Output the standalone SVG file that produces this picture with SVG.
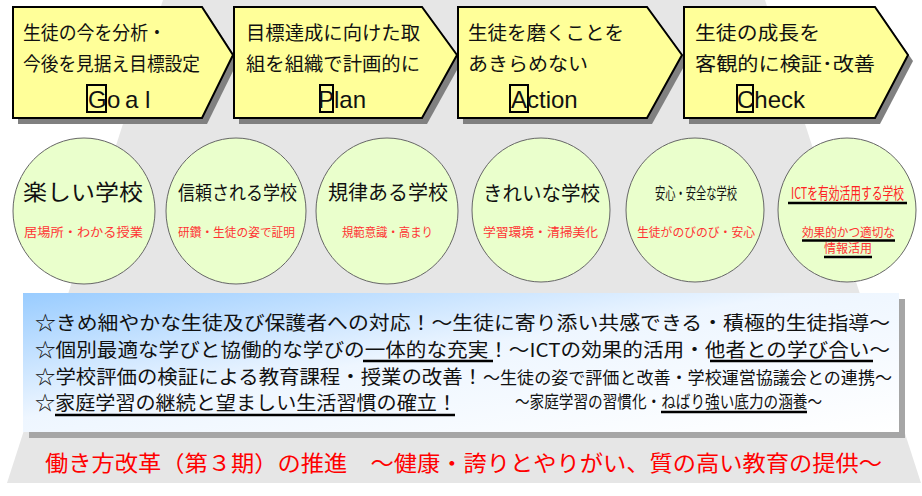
<svg xmlns="http://www.w3.org/2000/svg" width="922" height="496" viewBox="0 0 922 496">
<defs>
<style>
.jp{font-family:"Noto Sans CJK JP","Noto Sans",sans-serif}
.lat{font-family:"Liberation Sans",Arial,sans-serif;font-size:24px;fill:#111}
.arrow{fill:#ffff99;stroke:#000;stroke-width:2;stroke-linejoin:miter}
.shadow{fill:#808080}
.at{font-size:19px;fill:#111}
.lbox{fill:none;stroke:#000;stroke-width:2}
.circ{fill:#eaffcc;stroke:#666;stroke-width:1}
.ct{fill:#111}
.cs{font-size:12px;fill:#ff3333}
.ul{stroke:#000;stroke-width:2.5}
.bt{font-size:19px;fill:#111}
.bs{font-size:17px;fill:#111}
</style>
<linearGradient id="boxgrad" x1="0" y1="0" x2="1" y2="1">
<stop offset="0" stop-color="#99ccff"/>
<stop offset="0.45" stop-color="#eef6ff"/>
<stop offset="1" stop-color="#ffffff"/>
</linearGradient>
</defs>
<rect width="922" height="496" fill="#ffffff"/>
<polygon id="background" points="163,0 765,0 921,483 7,483" fill="#e6e6e6"/>

<g id="connectors"/>

<g id="step-goal">
<path class="shadow" d="M18,13 H207 L238,61 L207,124 H18 Z"/>
<path class="arrow" d="M13,7 H202 L233,55 L202,118 H13 Z"/>
<text class="jp at" x="23" y="40" textLength="143" lengthAdjust="spacingAndGlyphs">生徒の今を分析・</text>
<text class="jp at" x="23" y="71" textLength="177" lengthAdjust="spacingAndGlyphs">今後を見据え目標設定</text>
<rect class="lbox" x="87" y="85" width="19" height="27"/>
<text class="lat" x="88 107 125 145" y="108">Goal</text>
</g>

<g id="step-plan">
<path class="shadow" d="M239,13 H427 L462,61 L427,124 H239 Z"/>
<path class="arrow" d="M234,7 H422 L457,55 L422,118 H234 Z"/>
<text class="jp at" x="246" y="40" textLength="174" lengthAdjust="spacingAndGlyphs">目標達成に向けた取</text>
<text class="jp at" x="246" y="71" textLength="174" lengthAdjust="spacingAndGlyphs">組を組織で計画的に</text>
<rect class="lbox" x="320" y="85" width="13" height="27"/>
<text class="lat" x="318" y="108">Plan</text>
</g>

<g id="step-action">
<path class="shadow" d="M463,13 H652 L687,61 L652,124 H463 Z"/>
<path class="arrow" d="M458,7 H647 L682,55 L647,118 H458 Z"/>
<text class="jp at" x="468" y="40" textLength="156" lengthAdjust="spacingAndGlyphs">生徒を磨くことを</text>
<text class="jp at" x="468" y="71" textLength="120" lengthAdjust="spacingAndGlyphs">あきらめない</text>
<rect class="lbox" x="510" y="85" width="18" height="27"/>
<text class="lat" x="511" y="108">Action</text>
</g>

<g id="step-check">
<path class="shadow" d="M689,13 H880 L913,61 L880,124 H689 Z"/>
<path class="arrow" d="M684,7 H875 L908,55 L875,118 H684 Z"/>
<text class="jp at" x="695" y="40" textLength="125" lengthAdjust="spacingAndGlyphs">生徒の成長を</text>
<text class="jp at" x="695" y="71" textLength="180" lengthAdjust="spacingAndGlyphs">客観的に検証･改善</text>
<rect class="lbox" x="737" y="85" width="16" height="27"/>
<text class="lat" x="737" y="108">Check</text>
</g>

<g id="school-fun">
<ellipse class="circ" cx="84" cy="211" rx="71" ry="73"/>
<text class="jp ct" x="23" y="200" font-size="22" textLength="120" lengthAdjust="spacingAndGlyphs">楽しい学校</text>
<text class="jp cs" x="24" y="237" textLength="119" lengthAdjust="spacingAndGlyphs">居場所・わかる授業</text>
</g>

<g id="school-trust">
<ellipse class="circ" cx="236" cy="211" rx="70" ry="73"/>
<text class="jp ct" x="178" y="200" font-size="19" textLength="119" lengthAdjust="spacingAndGlyphs">信頼される学校</text>
<text class="jp cs" x="178" y="237" textLength="117" lengthAdjust="spacingAndGlyphs">研鑽・生徒の姿で証明</text>
</g>

<g id="school-order">
<ellipse class="circ" cx="387" cy="211" rx="71" ry="73"/>
<text class="jp ct" x="328" y="200" font-size="20" textLength="120" lengthAdjust="spacingAndGlyphs">規律ある学校</text>
<text class="jp cs" x="342" y="237" textLength="91" lengthAdjust="spacingAndGlyphs">規範意識・高まり</text>
</g>

<g id="school-clean">
<ellipse class="circ" cx="541" cy="210" rx="69" ry="72"/>
<text class="jp ct" x="483" y="201" font-size="20" textLength="117" lengthAdjust="spacingAndGlyphs">きれいな学校</text>
<text class="jp cs" x="483" y="237" textLength="115" lengthAdjust="spacingAndGlyphs">学習環境・清掃美化</text>
</g>

<g id="school-safe">
<ellipse class="circ" cx="695" cy="210" rx="69" ry="72"/>
<text class="jp ct" x="655" y="199" font-size="16" textLength="82" lengthAdjust="spacingAndGlyphs">安心・安全な学校</text>
<text class="jp cs" x="637" y="237" textLength="118" lengthAdjust="spacingAndGlyphs">生徒がのびのび・安心</text>
</g>

<g id="school-ict">
<ellipse class="circ" cx="847" cy="210" rx="69" ry="72"/>
<text class="jp" x="791" y="199" font-size="16" fill="#ff2222" textLength="113" lengthAdjust="spacingAndGlyphs">ICTを有効活用する学校</text>
<line class="ul" x1="788" y1="203" x2="907" y2="203"/>
<text class="jp cs" x="802" y="237" textLength="93" lengthAdjust="spacingAndGlyphs">効果的かつ適切な</text>
<line class="ul" x1="802" y1="240.5" x2="895" y2="240.5"/>
<text class="jp cs" x="824" y="253" textLength="48" lengthAdjust="spacingAndGlyphs">情報活用</text>
<line class="ul" x1="824" y1="257" x2="872" y2="257"/>
</g>

<g id="policy-box">
<rect x="29" y="299" width="876" height="139" fill="#a6a6a6"/>
<rect x="23" y="293" width="876" height="139" fill="url(#boxgrad)"/>
<text class="jp bt" x="35" y="330" textLength="855" lengthAdjust="spacingAndGlyphs">☆きめ細やかな生徒及び保護者への対応！～生徒に寄り添い共感できる・積極的生徒指導～</text>
<text class="jp bt" x="35" y="357" textLength="855" lengthAdjust="spacingAndGlyphs">☆個別最適な学びと協働的な学びの一体的な充実！～ICTの効果的活用・他者との学び合い～</text>
<line class="ul" x1="363" y1="361" x2="493" y2="361"/>
<line class="ul" x1="710" y1="361" x2="873" y2="361"/>
<text class="jp bt" x="35" y="384" textLength="448" lengthAdjust="spacingAndGlyphs">☆学校評価の検証による教育課程・授業の改善！</text>
<text class="jp" x="483" y="384" font-size="17" fill="#111" textLength="409" lengthAdjust="spacingAndGlyphs">～生徒の姿で評価と改善・学校運営協議会との連携～</text>
<text class="jp bt" x="35" y="410" textLength="422" lengthAdjust="spacingAndGlyphs">☆家庭学習の継続と望ましい生活習慣の確立！</text>
<line class="ul" x1="55" y1="415" x2="455" y2="415"/>
<text class="jp bs" x="515" y="408" textLength="307" lengthAdjust="spacingAndGlyphs">～家庭学習の習慣化・ねばり強い底力の涵養～</text>
<line class="ul" x1="661" y1="412" x2="807" y2="412"/>
</g>

<g id="footer">
<text class="jp" x="45" y="471" font-size="22" fill="#ff0000" textLength="837" lengthAdjust="spacingAndGlyphs">働き方改革（第３期）の推進　～健康・誇りとやりがい、質の高い教育の提供～</text>
</g>
</svg>
